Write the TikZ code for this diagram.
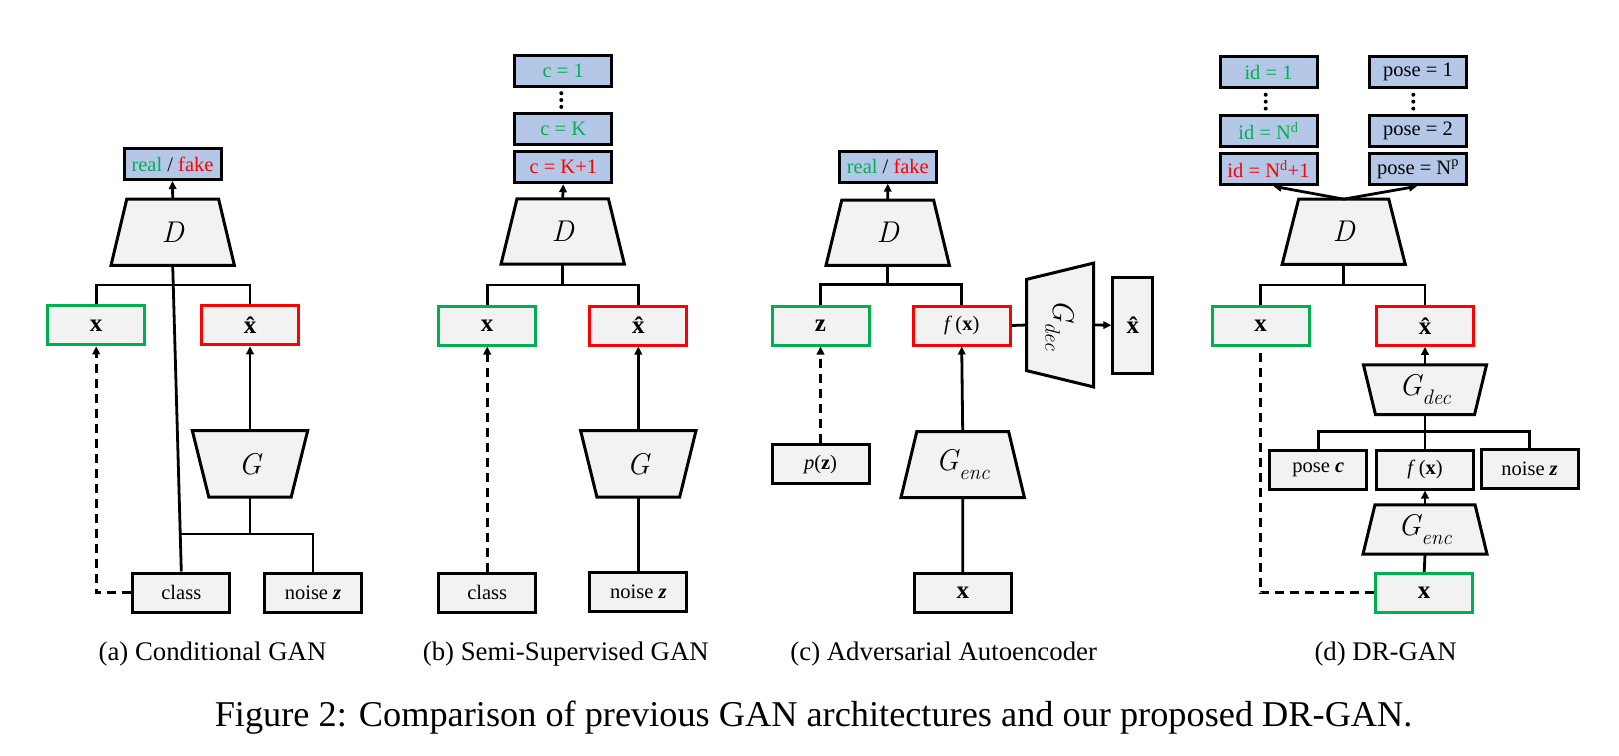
\documentclass[tikz,border=0pt]{standalone}
\usepackage{fontspec}
\setmainfont{Liberation Serif}
\newfontfamily\lmr{Latin Modern Roman}
\usetikzlibrary{arrows.meta,calc,backgrounds}
\definecolor{gfill}{HTML}{F2F2F2}
\definecolor{bfill}{HTML}{B4C7E7}
\definecolor{pgreen}{HTML}{00B050}
\definecolor{pred}{HTML}{FF0000}
\newcommand{\lab}{\fontsize{20.5}{24}\selectfont}
\newcommand{\bx}{\fontsize{25}{30}\selectfont\bfseries}
\newcommand{\mth}{\fontsize{30}{34}\selectfont\lmr\itshape}
\newcommand{\msub}[2]{#1\kern0.5pt\raisebox{-0.28em}{\fontsize{21}{24}\selectfont #2}}
\newcommand{\trapup}[2]{\filldraw[trapln] ($(#1.north west)+(#2,0)$) -- ($(#1.north east)+(-#2,0)$) -- (#1.south east) -- (#1.south west) -- cycle;}
\newcommand{\trapdown}[2]{\filldraw[trapln] (#1.north west) -- (#1.north east) -- ($(#1.south east)+(-#2,0)$) -- ($(#1.south west)+(#2,0)$) -- cycle;}
\newcommand{\trapright}[2]{\filldraw[trapln] ($(#1.north west)+(0,#2)$) -- (#1.north east) -- (#1.south east) -- ($(#1.south west)+(0,-#2)$) -- cycle;}
\tikzset{
  box/.style={draw=black, fill=gfill, line width=3pt, minimum width=97pt, minimum height=39pt, inner sep=0pt, font=\lab},
  bluebox/.style={box, fill=bfill, minimum height=31pt},
  trap/.style={inner sep=0pt, font=\mth},
  trapln/.style={draw=black, fill=gfill, line width=3pt, line join=miter},
  ln/.style={line width=2.8pt},
  arr/.style={ln, -{Triangle[length=8pt,width=7.5pt]}},
  dsh/.style={ln, dash pattern=on 9pt off 6pt},
  dot/.style={fill=black},
  capt/.style={font=\fontsize{26.8}{32}\selectfont, anchor=base, inner sep=0pt},
  mcapt/.style={font=\fontsize{36.3}{42}\selectfont, anchor=base, inner sep=0pt}
}
\begin{document}
\begin{tikzpicture}[x=1pt,y=-1pt]
\useasboundingbox (0,0) rectangle (1619,755);

% ---------------- (a) Conditional GAN
\node[bluebox] (rfA) at (172.5,164) {\textcolor{pgreen}{real} / \textcolor{pred}{fake}};
\node[trap, minimum width=123pt, minimum height=66pt] (Da) at (172.7,232.2) {D};
\node[box,draw=pgreen] (xA) at (96.2,325.3) {\bx x};
\node[box,draw=pred] (xhA) at (250,325.3) {\bx \^{x}};
\node[trap, minimum width=115pt, minimum height=66pt] (Ga) at (250,463.8) {G};
\node[box] (classA) at (181.3,592.5) {class};
\node[box] (noiseA) at (313,592.5) {noise \textbf{\textit{z}}};
\begin{scope}[on background layer]
\trapup{Da}{15.8}
\trapdown{Ga}{16.5}
\end{scope}
\coordinate (busA) at (172.7,285);
\coordinate (busA2) at (250,534);
\draw[arr] (Da.north) -- (rfA.south);
\draw[ln] (xA.north) |- (busA) -| (xhA.north);
\draw[ln] (Da.south) -- (classA.north);
\draw[arr] (Ga.north) -- (xhA.south);
\draw[ln] (Ga.south) -- (busA2);
\draw[ln] (classA.north |- busA2) -| (noiseA.north);
\draw[dsh,arr] (classA.west) -| (xA.south);

% ---------------- (b) Semi-Supervised GAN
\node[bluebox] (c1) at (563.3,70.8) {\textcolor{pgreen}{c = 1}};
\node[bluebox] (cK) at (563.3,129.3) {\textcolor{pgreen}{c = K}};
\node[bluebox] (cK1) at (563.3,167.2) {\textcolor{pred}{c = K+1}};
\node[trap, minimum width=123pt, minimum height=65pt] (Db) at (562.7,231.5) {D};
\node[box,draw=pgreen] (xB) at (487.2,325.5) {\bx x};
\node[box,draw=pred] (xhB) at (638.3,325.5) {\bx \^{x}};
\node[trap, minimum width=115pt, minimum height=66pt] (Gb) at (638.3,463.8) {G};
\node[box] (classB) at (487.2,592.5) {class};
\node[box] (noiseB) at (638.3,592.3) {noise \textbf{\textit{z}}};
\begin{scope}[on background layer]
\trapup{Db}{16}
\trapdown{Gb}{16.3}
\end{scope}
\fill[dot] ($(c1.south)!0.22!(cK.north)+(-2,0)$) circle (2);
\fill[dot] ($(c1.south)!0.5!(cK.north)+(-2,0)$) circle (2);
\fill[dot] ($(c1.south)!0.78!(cK.north)+(-2,0)$) circle (2);
\coordinate (busB) at (562.7,285);
\draw[arr] (Db.north) -- (cK1.south);
\draw[ln] (xB.north) |- (busB) -| (xhB.north);
\draw[ln] (Db.south) -- (busB);
\draw[dsh,arr] (classB.north) -- (xB.south);
\draw[arr] (Gb.north) -- (xhB.south);
\draw[ln] (Gb.south) -- (noiseB.north);

% ---------------- (c) Adversarial Autoencoder
\node[bluebox] (rfC) at (887.8,166.7) {\textcolor{pgreen}{real} / \textcolor{pred}{fake}};
\node[trap, minimum width=123pt, minimum height=65pt] (Dc) at (887.7,232.7) {D};
\node[box,draw=pgreen] (zC) at (820.5,325.5) {\bx z};
\node[box,draw=pred] (fxC) at (961.7,325.5) {\textit{f}\,(\textbf{x})};
\node[trap, minimum width=66.6pt, minimum height=123.4pt] (GdC) at (1060,325) {};
\node[trap, rotate=-90] (GdCl) at (GdC.center) {\msub{G}{dec}};
\node[box, minimum width=40pt, minimum height=96pt] (xhC) at (1132.8,325.2) {\bx \^{x}};
\node[box] (pzC) at (820.5,464.2) {\textit{p}(\textbf{z})};
\node[trap, minimum width=123pt, minimum height=65.6pt] (GeC) at (962.7,464.5) {\msub{G}{enc}};
\node[box] (xC) at (962.8,592.8) {\bx x};
\begin{scope}[on background layer]
\trapup{Dc}{15.8}
\trapright{GdC}{16.3}
\trapup{GeC}{15.8}
\end{scope}
\coordinate (busC) at (887.7,284.3);
\draw[arr] (Dc.north) -- (rfC.south);
\draw[ln] (zC.north) |- (busC) -| (fxC.north);
\draw[ln] (Dc.south) -- (busC);
\draw[dsh,arr] (pzC.north) -- (zC.south);
\draw[arr] (GeC.north) -- (fxC.south);
\draw[ln] (xC.north) -- (GeC.south);
\draw[ln] (fxC.east) -- (GdC.west);
\draw[arr] (GdC.east) -- (xhC.west);

% ---------------- (d) DR-GAN
\node[bluebox] (id1) at (1268.5,72.3) {\textcolor{pgreen}{id = 1}};
\node[bluebox] (idN) at (1268.5,131) {\textcolor{pgreen}{id = N\textsuperscript{d}}};
\node[bluebox] (idN1) at (1268.5,169.3) {\textcolor{pred}{id = N\textsuperscript{d}+1}};
\node[bluebox] (p1) at (1418,72.3) {pose = 1};
\node[bluebox] (p2) at (1418,131) {pose = 2};
\node[bluebox] (pN) at (1418,169.3) {pose = N\textsuperscript{p}};
\node[trap, minimum width=122.7pt, minimum height=64.7pt] (Dd) at (1343.7,231.7) {D};
\node[box,draw=pgreen] (xD) at (1260.5,325.8) {\bx x};
\node[box,draw=pred] (xhD) at (1425,325.8) {\bx \^{x}};
\node[trap, minimum width=122.7pt, minimum height=49.3pt] (GdD) at (1425,389.7) {\msub{G}{dec}};
\node[box] (poseD) at (1318.2,469.5) {pose \textbf{\textit{c}}};
\node[box] (fxD) at (1425,469.5) {\textit{f}\,(\textbf{x})};
\node[box] (noiseD) at (1529.5,469) {noise \textbf{\textit{z}}};
\node[trap, minimum width=123.7pt, minimum height=49pt] (GeD) at (1425,529.5) {\msub{G}{enc}};
\node[box,draw=pgreen] (xD2) at (1424.2,592.8) {\bx x};
\begin{scope}[on background layer]
\trapup{Dd}{16.5}
\trapdown{GdD}{12}
\trapup{GeD}{12}
\end{scope}
\fill[dot] ($(id1.south)!0.22!(idN.north)+(-2.8,0)$) circle (2);
\fill[dot] ($(id1.south)!0.5!(idN.north)+(-2.8,0)$) circle (2);
\fill[dot] ($(id1.south)!0.78!(idN.north)+(-2.8,0)$) circle (2);
\fill[dot] ($(p1.south)!0.22!(p2.north)+(-4.7,0)$) circle (2);
\fill[dot] ($(p1.south)!0.5!(p2.north)+(-4.7,0)$) circle (2);
\fill[dot] ($(p1.south)!0.78!(p2.north)+(-4.7,0)$) circle (2);
\coordinate (busD) at (1343.7,285);
\coordinate (busD2) at (1425,431.7);
\draw[arr] (Dd.north) -- ($(idN1.south)+(5,0)$);
\draw[arr] (Dd.north) -- ($(pN.south)+(-1,0)$);
\draw[ln] (xD.north) |- (busD) -| (xhD.north);
\draw[ln] (Dd.south) -- (busD);
\draw[arr] (GdD.north) -- (xhD.south);
\draw[ln] (GdD.south) -- (fxD.north);
\draw[ln] (poseD.north) |- (busD2) -| (noiseD.north);
\draw[arr] (GeD.north) -- (fxD.south);
\draw[ln] (xD2.north) -- (GeD.south);
\draw[dsh] (xD2.west) -| (xD.south);

% ---------------- captions
\node[capt] (capA) at (212.5,660) {(a) Conditional GAN};
\node[capt] (capB) at (565.8,660) {(b) Semi-Supervised GAN};
\node[capt] (capC) at (943.7,660) {(c) Adversarial Autoencoder};
\node[capt] (capD) at (1385.6,660) {(d) DR-GAN};
\node[mcapt] (capM) at (813.6,726) {Figure 2: Comparison of previous GAN architectures and our proposed DR-GAN.};
\end{tikzpicture}
\end{document}
